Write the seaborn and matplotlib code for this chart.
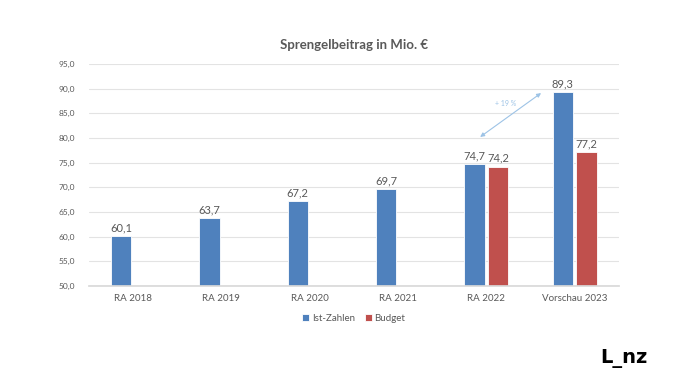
import numpy as np
import pandas as pd
import matplotlib
matplotlib.use("Agg")
import matplotlib.pyplot as plt
import seaborn as sns

sns.set_theme(style="white")
plt.rcParams["font.family"] = ["Lato", "DejaVu Sans"]

# ── Data ──────────────────────────────────────────────────────────────────────
categories = ["RA 2018", "RA 2019", "RA 2020", "RA 2021", "RA 2022", "Vorschau 2023"]
ist_zahlen = [60.1, 63.7, 67.2, 69.7, 74.7, 89.3]
budget = [np.nan, np.nan, np.nan, np.nan, 74.2, 77.2]
series = ["Ist-Zahlen", "Budget"]
yticks = [50, 55, 60, 65, 70, 75, 80, 85, 90, 95]
note = "+ 19 %"

df = pd.DataFrame({
    "cat": categories * 2,
    "value": ist_zahlen + budget,
    "series": [series[0]] * len(categories) + [series[1]] * len(categories),
})

blue, red = "#4F81BD", "#C0504D"
grey = "#595959"

fig = plt.figure(figsize=(6.8, 3.83), dpi=100)
ax = fig.add_axes([0.1306, 0.2533, 0.7794, 0.5797])

sns.barplot(data=df, x="cat", y="value", hue="series", hue_order=series,
            order=categories, palette=[blue, red], saturation=1,
            width=0.54, gap=0.15, errorbar=None, ax=ax,
            edgecolor="white", linewidth=0.6)

fmt = lambda v: f"{v:.1f}".replace(".", ",")
for cont in ax.containers:
    ax.bar_label(cont, fmt=fmt, padding=2, fontsize=8, color=grey)

ax.set_ylim(50, 95)
ax.set_yticks(yticks)
ax.set_yticklabels([fmt(t) for t in yticks], fontsize=6, color=grey)
ax.tick_params(axis="x", labelsize=7, colors=grey, length=0, pad=6)
ax.tick_params(axis="y", length=0, pad=10)
ax.set_xlabel("")
ax.set_ylabel("")
ax.yaxis.grid(True, color="#E3E3E3", linewidth=0.8)
ax.set_axisbelow(True)
for s in ["top", "right", "left"]:
    ax.spines[s].set_visible(False)
ax.spines["bottom"].set_color("#D9D9D9")

ax.set_title("Sprengelbeitrag in Mio. €", fontsize=9.5, fontweight="bold",
             color=grey, pad=11)

# growth arrow
ax.annotate("", xy=(4.62, 89.1), xytext=(3.93, 80.2),
            arrowprops=dict(arrowstyle="<|-|>", color="#9DC3E6", lw=0.8,
                            mutation_scale=6, shrinkA=0, shrinkB=0))
ax.text(4.22, 86.9, note, fontsize=5, color="#9DC3E6", ha="center", va="center")

ax.legend(loc="upper center", bbox_to_anchor=(0.5, -0.085), ncol=2,
          frameon=False, fontsize=7, handlelength=0.7, handleheight=0.7,
          handletextpad=0.3, columnspacing=1.0, labelcolor=grey)

fig.text(0.917, 0.065, "L_nz", fontsize=14, fontweight="bold", color="black",
         family="DejaVu Sans", ha="center", va="center")

fig.savefig("out.png", dpi=100)
